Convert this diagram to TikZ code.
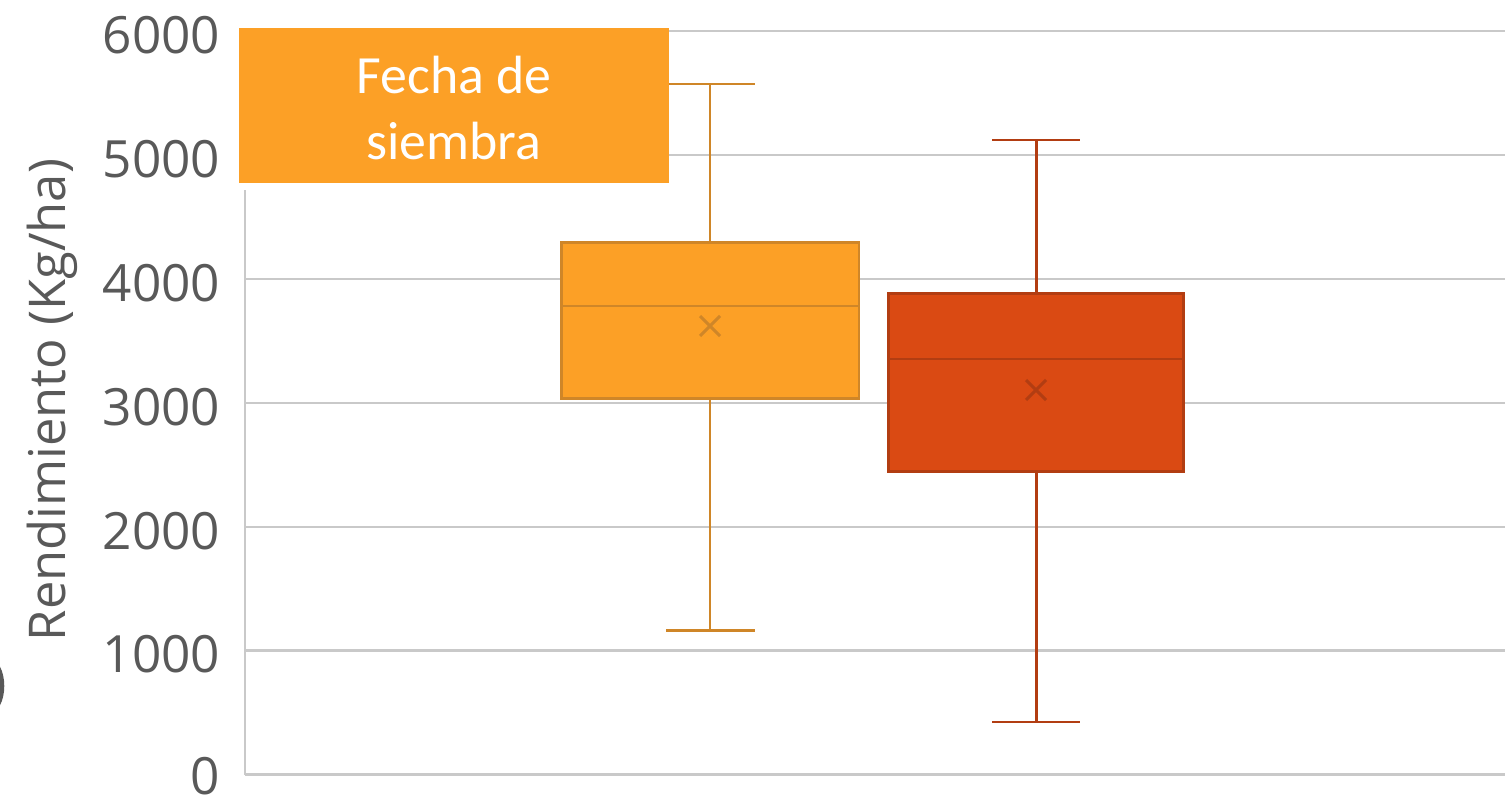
\documentclass[tikz,border=0pt]{standalone}
\usepackage{fontspec}
\setmainfont{Open Sans}
\newfontfamily\calib{Carlito}
\definecolor{gridc}{HTML}{C9C9C9}
\definecolor{tickc}{HTML}{595959}
\definecolor{orfill}{HTML}{FCA026}
\definecolor{ordraw}{HTML}{CF8628}
\definecolor{rdfill}{HTML}{DA4A13}
\definecolor{rddraw}{HTML}{B23D12}
\tikzset{
  gridline/.style={draw=gridc, line width=0.65pt},
  ticklab/.style={anchor=east, text=tickc, font=\fontsize{14.6}{18}\selectfont, inner sep=0pt},
  whisk/.style={line width=0.85pt},
  boxst/.style={line width=0.85pt},
}
\begin{document}
\begin{tikzpicture}[x=0.01cm, y=-0.01cm]
\useasboundingbox (0,0) rectangle (1505,803);
% grid
\foreach \v/\y in {1000/650.6,2000/526.7,3000/402.8,4000/278.9,5000/155.0,6000/31.1}{
  \draw[gridline] (245,\y) -- (1505,\y);
  \node[ticklab] at (221,\y+4) {\v};
}
\draw[gridline] (245,774.5) -- (1505,774.5);
\node[ticklab] (zero) at (221,776.5) {0};
\draw[gridline] (245,190) -- (245,774.5);
% y title
\node[rotate=90, text=tickc, font=\fontsize{14.4}{18}\selectfont, inner sep=0pt] (ytitle) at (52,400) {Rendimiento (Kg/ha)};
% clipped fragment at left edge
\begin{scope}
\clip (0,600) rectangle (10,760);
\draw[tickc, line width=1.3pt] (-12,660) arc[start angle=90, end angle=-90, x radius=14, y radius=-26];
\end{scope}
% orange box
\coordinate (oTop) at (710,84);
\coordinate (oQ3) at (710,242.3);
\coordinate (oQ1) at (710,398.3);
\coordinate (oBot) at (710,630.7);
\draw[ordraw, whisk] (oTop) -- (oQ3);
\draw[ordraw, whisk] (oQ1) -- (oBot);
\draw[ordraw, whisk] (666,84) -- (755,84);
\draw[ordraw, whisk] (666,630.7) -- (755,630.7);
\draw[boxst, draw=ordraw, fill=orfill] (561.7,242.3) rectangle (859,398.3);
\draw[ordraw, whisk] (561.7,306) -- (859,306);
\draw[ordraw, whisk] (700,316) -- (720,336) (700,336) -- (720,316);
% red box
\coordinate (rTop) at (1036,140);
\coordinate (rQ3) at (1036,293.3);
\coordinate (rQ1) at (1036,471.7);
\coordinate (rBot) at (1036,722);
\draw[rddraw, whisk] (rTop) -- (rQ3);
\draw[rddraw, whisk] (rQ1) -- (rBot);
\draw[rddraw, whisk] (992,140) -- (1080,140);
\draw[rddraw, whisk] (992,722) -- (1080,722);
\draw[boxst, draw=rddraw, fill=rdfill] (888.3,293.3) rectangle (1183,471.7);
\draw[rddraw, whisk] (888.3,359) -- (1183,359);
\draw[rddraw, whisk] (1026,380) -- (1046,400) (1026,400) -- (1046,380);
% label box
\fill[orfill] (239,28) rectangle (669,183);
\node[text=white, font=\calib\fontsize{15.3}{18.5}\selectfont, align=center, inner sep=0pt] (lab) at (454,108) {Fecha de\\siembra};
\end{tikzpicture}
\end{document}
